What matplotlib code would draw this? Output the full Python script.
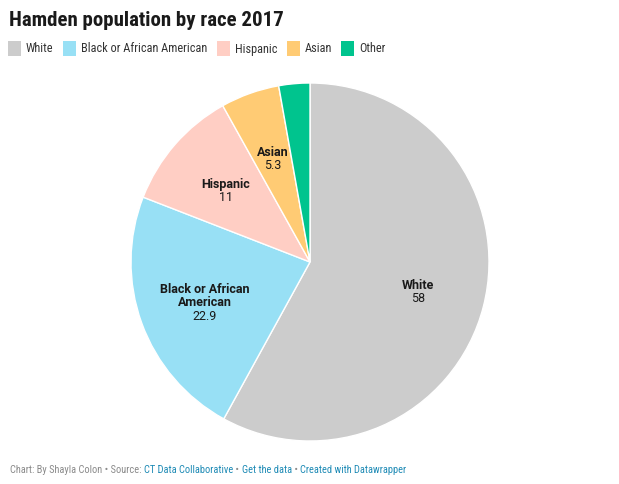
import matplotlib
matplotlib.use("Agg")
import matplotlib.pyplot as plt
from matplotlib.patches import Rectangle
from matplotlib import font_manager
import numpy as np

categories = ["White", "Black or African American", "Hispanic", "Asian", "Other"]
label_lines = ["White", "Black or African\nAmerican", "Hispanic", "Asian", ""]
values = [58, 22.9, 11, 5.3, 2.8]
value_labels = ["58", "22.9", "11", "5.3", ""]
colors = ["#cccccc", "#98e0f5", "#ffcec4", "#ffcb74", "#00c48e"]

title = "Hamden population by race 2017"
footer_parts = [("Chart: By Shayla Colon \u2022 Source: ", "#8a8a8a"),
                ("CT Data Collaborative", "#1d8ab5"),
                (" \u2022 ", "#8a8a8a"),
                ("Get the data", "#1d8ab5"),
                (" \u2022 ", "#8a8a8a"),
                ("Created with Datawrapper", "#1d8ab5")]

plt.rcParams['font.family'] = ['Roboto', 'DejaVu Sans']
installed = {f.name for f in font_manager.fontManager.ttflist}
if 'Roboto Condensed' in installed:
    narrow = ['Roboto Condensed', 'DejaVu Sans']
    ts, ls, fs = 15.0, 8.8, 7.5
else:
    narrow = ['Roboto', 'DejaVu Sans']
    ts, ls, fs = 13.5, 8.0, 6.8

W, H = 619, 485
fig = plt.figure(figsize=(W / 100, H / 100), dpi=100)

def fx(px):
    return px / W

def fy(py):
    return 1 - py / H

# Title
fig.text(fx(9), fy(20), title, fontsize=ts, fontweight='bold', color='#1a1a1a',
         ha='left', va='center', family=narrow)

# Legend
sq_x = [8, 63, 217, 287, 341]
for i, (cat, col) in enumerate(zip(categories, colors)):
    x0 = sq_x[i]
    fig.patches.append(Rectangle((fx(x0), fy(57)), 13 / W, 15 / H, transform=fig.transFigure,
                                 facecolor=col, edgecolor='none'))
    fig.text(fx(x0 + 18), fy(49), cat, fontsize=ls, color='#333333', ha='left', va='center',
             family=narrow)

# Pie
cx, cy, R = 310, 263, 179
ax = fig.add_axes([fx(cx - R), fy(cy + R), 2 * R / W, 2 * R / H])
wedges, _ = ax.pie(values, colors=colors, startangle=90, counterclock=False, radius=1,
                   wedgeprops=dict(edgecolor='white', linewidth=1))
ax.set_xlim(-1, 1)
ax.set_ylim(-1, 1)
ax.axis('off')

line_px = 13.5
for w, lab, vl in zip(wedges, label_lines, value_labels):
    if not lab:
        continue
    ang = np.deg2rad((w.theta1 + w.theta2) / 2)
    r = 0.625
    x, y = r * np.cos(ang), r * np.sin(ang)
    lines = lab.split("\n") + [vl]
    n = len(lines)
    for i, ln in enumerate(lines):
        off = -(i - (n - 1) / 2) * line_px * 0.72 - 1.0
        bold = i < n - 1
        ax.annotate(ln, (x, y), xytext=(0, off), textcoords='offset points',
                    fontsize=9, fontweight='bold' if bold else 'normal',
                    color='#1a1a1a', ha='center', va='center')

# Footer
fig.canvas.draw()
renderer = fig.canvas.get_renderer()
xpos = fx(10)
for txt, col in footer_parts:
    t = fig.text(xpos, fy(470), txt, fontsize=fs, color=col, ha='left', va='center',
                 family=narrow)
    bb = t.get_window_extent(renderer=renderer)
    xpos += bb.width / W

fig.savefig("out.png", dpi=100)
